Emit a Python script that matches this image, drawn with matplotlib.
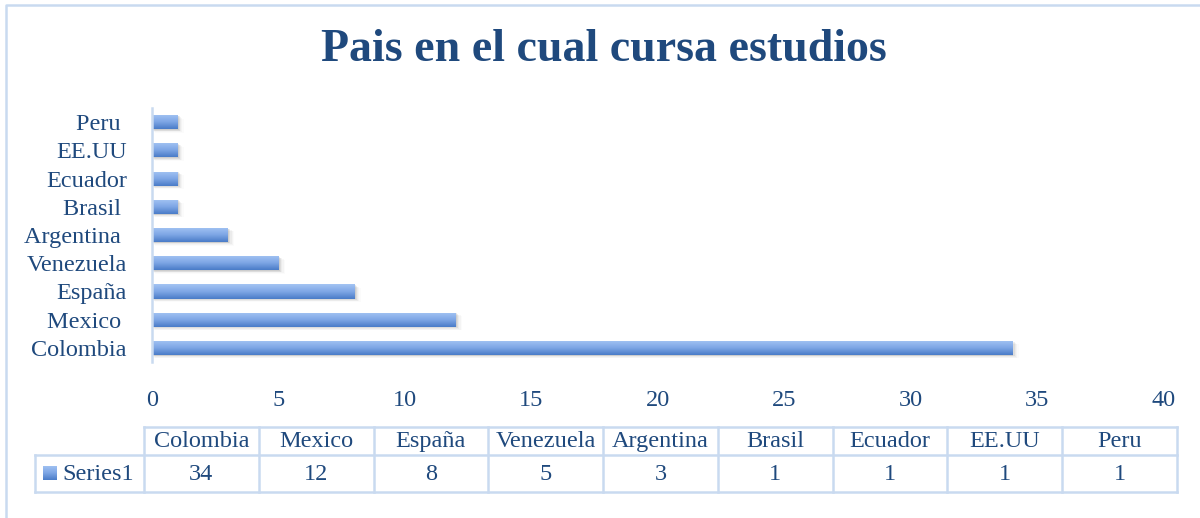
import matplotlib.pyplot as plt
import numpy as np
from matplotlib.colors import LinearSegmentedColormap
from matplotlib.patches import Rectangle

# data
countries = ["Colombia", "Mexico", "España", "Venezuela", "Argentina",
             "Brasil", "Ecuador", "EE.UU", "Peru"]
values = [34, 12, 8, 5, 3, 1, 1, 1, 1]
series_name = "Series1"
xticks = [0, 5, 10, 15, 20, 25, 30, 35, 40]
title = "Pais en el cual cursa estudios"

TXT = "#1F497D"
GRID = "#C9DAF0"
FS = 17.5
plt.rcParams['font.family'] = ['Liberation Serif', 'DejaVu Serif']

W, H = 1200, 518
fig = plt.figure(figsize=(W / 100, H / 100), dpi=100)

def fbox(x0, y0, x1, y1):
    # pixel box (top-left origin) -> figure rect
    return [x0 / W, 1 - y1 / H, (x1 - x0) / W, (y1 - y0) / H]

# outer frame
frame = fig.add_axes([0, 0, 1, 1])
frame.set_xlim(0, W)
frame.set_ylim(H, 0)
frame.axis("off")
frame.plot([6, 6, W + 5], [H + 5, 5, 5], color=GRID, lw=1.8)

fig.text(604 / W, 1 - 50 / H, title, ha="center", va="center",
         fontsize=33, fontweight="bold", color=TXT)

cmap = LinearSegmentedColormap.from_list("bar", ["#A3C4F3", "#7FA7E6", "#4A7CC8"])
grad = np.linspace(0, 1, 64).reshape(-1, 1)

ax = fig.add_axes(fbox(152, 108, 1164, 362))
ypos = np.arange(len(countries))
bh = 0.5

for y, v in zip(ypos, values):
    # soft shadow
    for k, a in zip(range(1, 6), [0.16, 0.12, 0.08, 0.05, 0.03]):
        ax.add_patch(Rectangle((0.02 * k, y - bh / 2 - 0.025 * k), v + 0.03 * k, bh,
                               facecolor="#808080", alpha=a, lw=0, zorder=1))
    rect = Rectangle((0, y - bh / 2), v, bh, facecolor="none", lw=0, zorder=3)
    ax.add_patch(rect)
    im = ax.imshow(grad, cmap=cmap, aspect="auto", zorder=2,
                   extent=(0, v, y - bh / 2, y + bh / 2), origin="upper")
    im.set_clip_path(rect)
ax.set_xlim(0, 40)
ax.set_ylim(-0.5, len(countries) - 0.5)

for s in ["top", "right", "bottom"]:
    ax.spines[s].set_visible(False)
ax.spines["left"].set_color(GRID)
ax.spines["left"].set_linewidth(1.8)
ax.set_yticks(ypos)
ax.set_yticklabels([c + " " if c in ("Peru", "Brasil", "Argentina", "Mexico") else c for c in countries],
                   fontsize=FS, color=TXT)
ax.tick_params(axis="y", length=0, pad=18)
ax.set_xticks(xticks)
ax.set_xticklabels([str(t) for t in xticks], fontsize=FS, color=TXT)
ax.tick_params(axis="x", length=0, pad=20)

# data table
tab = fig.add_axes(fbox(144, 427, 1177, 492))
tab.set_xlim(0, len(countries))
tab.set_ylim(0, 2)
tab.axis("off")
row_split = 2 - 28 / 65 * 2
legw = 109 / (1033 / len(countries))
lk = dict(color=GRID, lw=1.8, clip_on=False, solid_capstyle="projecting")
tab.plot([0, len(countries)], [2, 2], **lk)
tab.plot([-legw, len(countries)], [row_split, row_split], **lk)
tab.plot([-legw, len(countries)], [0, 0], **lk)
tab.plot([-legw, -legw], [0, row_split], **lk)
for i in range(len(countries) + 1):
    tab.plot([i, i], [0, 2], **lk)
for i, (c, v) in enumerate(zip(countries, values)):
    tab.text(i + 0.5, (2 + row_split) / 2 - 0.02, c, ha="center", va="center",
             fontsize=FS, color=TXT)
    tab.text(i + 0.5, row_split / 2 - 0.02, str(v), ha="center", va="center",
             fontsize=FS, color=TXT)
tab.text(-legw + 0.235, row_split / 2 - 0.02, series_name, ha="left", va="center",
         fontsize=FS, color=TXT, clip_on=False)
key = fig.add_axes(fbox(43, 466, 57, 480))
key.imshow(grad, cmap=cmap, aspect="auto")
key.axis("off")

fig.savefig("out.png", dpi=100)
